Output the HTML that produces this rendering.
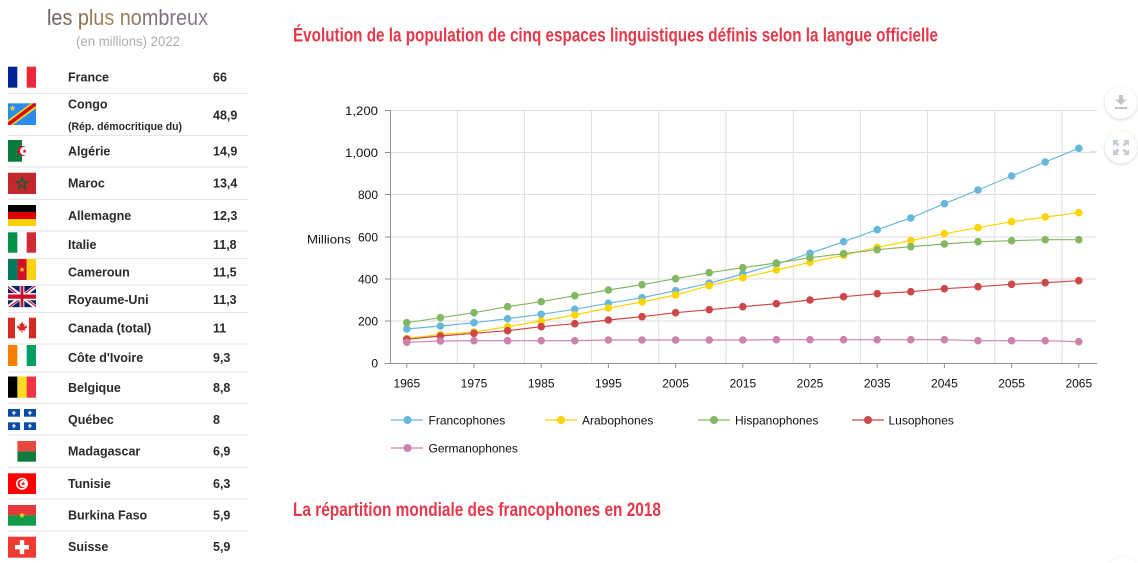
<!DOCTYPE html>
<html><head><meta charset="utf-8"><style>
html,body{margin:0;padding:0;background:#fff;}
svg{display:block;}
.nm{font-family:"Liberation Sans",sans-serif;font-weight:bold;font-size:12.5px;fill:#2a2a2a;}
.ax{font-family:"Liberation Sans",sans-serif;font-size:12px;fill:#111;}
.lg{font-family:"Liberation Sans",sans-serif;font-size:12px;fill:#111;}
</style></head><body>
<svg width="1138" height="563" viewBox="0 0 1138 563" xmlns="http://www.w3.org/2000/svg">
<defs>
<linearGradient id="tg" x1="47" y1="0" x2="208" y2="0" gradientUnits="userSpaceOnUse">
<stop offset="0" stop-color="#6a5a66"/><stop offset="0.4" stop-color="#a8884e"/><stop offset="0.7" stop-color="#7c6c7c"/><stop offset="1" stop-color="#8a8090"/>
</linearGradient>
<filter id="sh" x="-50%" y="-50%" width="200%" height="200%"><feDropShadow dx="0" dy="1" stdDeviation="1.5" flood-color="#000" flood-opacity="0.18"/></filter>
<marker id="mb" markerWidth="10" markerHeight="10" refX="5" refY="5" markerUnits="userSpaceOnUse"><circle cx="5" cy="5" r="3.8" fill="#67b7dc"/></marker>
<marker id="my" markerWidth="10" markerHeight="10" refX="5" refY="5" markerUnits="userSpaceOnUse"><circle cx="5" cy="5" r="3.8" fill="#fdd400"/></marker>
<marker id="mg" markerWidth="10" markerHeight="10" refX="5" refY="5" markerUnits="userSpaceOnUse"><circle cx="5" cy="5" r="3.8" fill="#84b761"/></marker>
<marker id="mr" markerWidth="10" markerHeight="10" refX="5" refY="5" markerUnits="userSpaceOnUse"><circle cx="5" cy="5" r="3.8" fill="#cc4748"/></marker>
<marker id="mp" markerWidth="10" markerHeight="10" refX="5" refY="5" markerUnits="userSpaceOnUse"><circle cx="5" cy="5" r="3.8" fill="#cd82ad"/></marker>
</defs>

<!-- Left panel header -->
<text x="47" y="25" font-family="Liberation Sans, sans-serif" font-size="22" fill="url(#tg)" textLength="161" lengthAdjust="spacingAndGlyphs">les plus nombreux</text>
<text x="76" y="46" font-family="Liberation Sans, sans-serif" font-size="14" fill="#adadad" textLength="104" lengthAdjust="spacingAndGlyphs">(en millions) 2022</text>

<!-- separators -->
<g stroke="#e6e6e6" stroke-width="1">
<line x1="8" y1="93.5" x2="248" y2="93.5"/>
<line x1="8" y1="135.5" x2="248" y2="135.5"/>
<line x1="8" y1="167" x2="248" y2="167"/>
<line x1="8" y1="199.5" x2="248" y2="199.5"/>
<line x1="8" y1="231" x2="248" y2="231"/>
<line x1="8" y1="258.5" x2="248" y2="258.5"/>
<line x1="8" y1="285" x2="248" y2="285"/>
<line x1="8" y1="312.5" x2="248" y2="312.5"/>
<line x1="8" y1="344" x2="248" y2="344"/>
<line x1="8" y1="372" x2="248" y2="372"/>
<line x1="8" y1="403.5" x2="248" y2="403.5"/>
<line x1="8" y1="435" x2="248" y2="435"/>
<line x1="8" y1="467.5" x2="248" y2="467.5"/>
<line x1="8" y1="499" x2="248" y2="499"/>
<line x1="8" y1="531" x2="248" y2="531"/>
</g>

<!-- Flags -->
<rect x="8" y="66.7" width="9.4" height="21" fill="#002395"/><rect x="17.4" y="66.7" width="9.3" height="21" fill="#fff"/><rect x="26.7" y="66.7" width="9.3" height="21" fill="#ed2939"/>
<rect x="8" y="103.3" width="28" height="21.7" fill="#2b8cf0"/>
<polygon points="8,120 31,103.3 36,103.3 36,108.3 13,125 8,125" fill="#f7d618"/>
<polygon points="8,122.3 33.5,103.3 36,103.3 36,105.8 10.5,125 8,125" fill="#ce1021"/>
<polygon points="12.5,105 13.3,107.3 15.6,107.3 13.8,108.7 14.5,111 12.5,109.6 10.5,111 11.2,108.7 9.4,107.3 11.7,107.3" fill="#f7d618"/>
<rect x="8" y="140" width="14" height="21.7" fill="#0a7a3c"/><rect x="22" y="140" width="14" height="21.7" fill="#fff"/>
<circle cx="22.5" cy="151" r="5" fill="#d21034"/><circle cx="24" cy="151" r="4" fill="#fff"/>
<polygon points="24.5,149 25.2,150.4 26.7,150.5 25.6,151.5 26,153 24.5,152.2 23.2,153 23.5,151.5 22.4,150.5 24,150.4" fill="#d21034"/>
<rect x="8" y="172.7" width="28" height="21.3" fill="#c1272d"/>
<polygon points="22,177.5 23.4,181.6 27.7,181.6 24.2,184.2 25.5,188.4 22,185.8 18.5,188.4 19.8,184.2 16.3,181.6 20.6,181.6" fill="none" stroke="#006233" stroke-width="1.2"/>
<rect x="8" y="205" width="28" height="7" fill="#000"/><rect x="8" y="212" width="28" height="7" fill="#dd0000"/><rect x="8" y="219" width="28" height="7" fill="#ffce00"/>
<rect x="8" y="232.3" width="9.4" height="20.4" fill="#009246"/><rect x="17.4" y="232.3" width="9.3" height="20.4" fill="#fff"/><rect x="26.7" y="232.3" width="9.3" height="20.4" fill="#ce2b37"/>
<rect x="8" y="259" width="9.4" height="21" fill="#007a5e"/><rect x="17.4" y="259" width="9.3" height="21" fill="#ce1126"/><rect x="26.7" y="259" width="9.3" height="21" fill="#fcd116"/>
<polygon points="22,266.5 22.7,268.6 24.9,268.6 23.1,269.9 23.8,272 22,270.7 20.2,272 20.9,269.9 19.1,268.6 21.3,268.6" fill="#fcd116"/>
<svg x="8" y="286" width="28" height="21.3" viewBox="0 0 60 30" preserveAspectRatio="none">
<clipPath id="ukt"><path d="M30,15 h30 v15 z v15 h-30 z h-30 v-15 z v-15 h30 z"/></clipPath>
<rect width="60" height="30" fill="#012169"/>
<path d="M0,0 L60,30 M60,0 L0,30" stroke="#fff" stroke-width="6"/>
<path d="M0,0 L60,30 M60,0 L0,30" clip-path="url(#ukt)" stroke="#C8102E" stroke-width="4"/>
<path d="M30,0 v30 M0,15 h60" stroke="#fff" stroke-width="10"/>
<path d="M30,0 v30 M0,15 h60" stroke="#C8102E" stroke-width="6"/>
</svg>
<rect x="8" y="317.7" width="7" height="20.6" fill="#d52b1e"/><rect x="15" y="317.7" width="14" height="20.6" fill="#fff"/><rect x="29" y="317.7" width="7" height="20.6" fill="#d52b1e"/>
<polygon transform="translate(22,327.5)" points="0,-6 1.3,-3.3 2.7,-3.9 2.2,-0.6 4.9,-2.7 4.3,-1.1 5.5,-0.5 2.7,2 3.3,3.3 0.45,2.8 0.45,5.5 -0.45,5.5 -0.45,2.8 -3.3,3.3 -2.7,2 -5.5,-0.5 -4.3,-1.1 -4.9,-2.7 -2.2,-0.6 -2.7,-3.9 -1.3,-3.3" fill="#d52b1e"/>
<rect x="8" y="345" width="9.4" height="21" fill="#f77f00"/><rect x="17.4" y="345" width="9.3" height="21" fill="#fff"/><rect x="26.7" y="345" width="9.3" height="21" fill="#009e60"/>
<rect x="8" y="376.5" width="9.4" height="21.2" fill="#000"/><rect x="17.4" y="376.5" width="9.3" height="21.2" fill="#fdda24"/><rect x="26.7" y="376.5" width="9.3" height="21.2" fill="#ef3340"/>
<rect x="8" y="409" width="28" height="21" fill="#0a4ba8"/>
<rect x="20" y="409" width="4" height="21" fill="#fff"/><rect x="8" y="416.7" width="28" height="5.6" fill="#fff"/>
<g fill="#fff"><rect x="13.3" y="410.8" width="1.2" height="4.3"/><rect x="12" y="412.3" width="3.8" height="1.1"/>
<rect x="29.3" y="410.8" width="1.2" height="4.3"/><rect x="28" y="412.3" width="3.8" height="1.1"/>
<rect x="13.3" y="423.8" width="1.2" height="4.3"/><rect x="12" y="425.3" width="3.8" height="1.1"/>
<rect x="29.3" y="423.8" width="1.2" height="4.3"/><rect x="28" y="425.3" width="3.8" height="1.1"/></g>
<rect x="8" y="441" width="9.4" height="20.7" fill="#fff"/><rect x="17.4" y="441" width="18.6" height="10.4" fill="#e8483e"/><rect x="17.4" y="451.4" width="18.6" height="10.3" fill="#137a3e"/>
<rect x="8" y="473.3" width="28" height="20.7" fill="#ff0000"/>
<circle cx="22" cy="483.7" r="6" fill="#fff"/><circle cx="22" cy="483.7" r="4.5" fill="#ff0000"/><circle cx="23.2" cy="483.7" r="3.6" fill="#fff"/>
<polygon points="23.3,481.6 23.9,483 25.4,483.1 24.2,484 24.6,485.5 23.3,484.7 22,485.5 22.4,484 21.2,483.1 22.7,483" fill="#ff0000"/>
<rect x="8" y="505" width="28" height="10.4" fill="#e5383a"/><rect x="8" y="515.4" width="28" height="10.3" fill="#149b4a"/>
<polygon points="22,512 22.8,514.3 25.2,514.3 23.2,515.7 24,518 22,516.6 20,518 20.8,515.7 18.8,514.3 21.2,514.3" fill="#fcd116"/>
<rect x="8" y="536.7" width="28" height="21" fill="#ef3b2f"/>
<rect x="15" y="545" width="14" height="4.4" fill="#fff"/><rect x="19.8" y="540.2" width="4.4" height="14" fill="#fff"/>

<!-- Names & values -->
<g class="nm">
<text x="68" y="81.5">France</text><text x="213" y="81.5">66</text>
<text x="68" y="108.5">Congo</text><text x="213" y="119.5">48,9</text>
<text x="68" y="130" font-size="11" textLength="114" lengthAdjust="spacingAndGlyphs">(Rép. démocritique du)</text>
<text x="68" y="155.5">Algérie</text><text x="213" y="155.5">14,9</text>
<text x="68" y="187.5">Maroc</text><text x="213" y="187.5">13,4</text>
<text x="68" y="219.8">Allemagne</text><text x="213" y="219.8">12,3</text>
<text x="68" y="248.8">Italie</text><text x="213" y="248.8">11,8</text>
<text x="68" y="276.5">Cameroun</text><text x="213" y="276.5">11,5</text>
<text x="68" y="303.8">Royaume-Uni</text><text x="213" y="303.8">11,3</text>
<text x="68" y="332.5">Canada (total)</text><text x="213" y="332.5">11</text>
<text x="68" y="362.2">Côte d'Ivoire</text><text x="213" y="362.2">9,3</text>
<text x="68" y="391.8">Belgique</text><text x="213" y="391.8">8,8</text>
<text x="68" y="423.8">Québec</text><text x="213" y="423.8">8</text>
<text x="68" y="455.5">Madagascar</text><text x="213" y="455.5">6,9</text>
<text x="68" y="487.8">Tunisie</text><text x="213" y="487.8">6,3</text>
<text x="68" y="519.5">Burkina Faso</text><text x="213" y="519.5">5,9</text>
<text x="68" y="551.2">Suisse</text><text x="213" y="551.2">5,9</text>
</g>

<!-- Titles -->
<text x="293" y="41.5" font-family="Liberation Sans Narrow, Liberation Sans, sans-serif" font-weight="bold" font-size="19" fill="#e5394b" textLength="645" lengthAdjust="spacingAndGlyphs">Évolution de la population de cinq espaces linguistiques définis selon la langue officielle</text>
<text x="293" y="516" font-family="Liberation Sans Narrow, Liberation Sans, sans-serif" font-weight="bold" font-size="19" fill="#e5394b" textLength="368" lengthAdjust="spacingAndGlyphs">La répartition mondiale des francophones en 2018</text>

<!-- Grid -->
<g stroke="#dedede" stroke-width="1">
<line x1="390" y1="110.5" x2="1096" y2="110.5"/>
<line x1="390" y1="152.5" x2="1096" y2="152.5"/>
<line x1="390" y1="194.5" x2="1096" y2="194.5"/>
<line x1="390" y1="237" x2="1096" y2="237"/>
<line x1="390" y1="279" x2="1096" y2="279"/>
<line x1="390" y1="321" x2="1096" y2="321"/>
<line x1="457.2" y1="110" x2="457.2" y2="363"/>
<line x1="524.4" y1="110" x2="524.4" y2="363"/>
<line x1="591.6" y1="110" x2="591.6" y2="363"/>
<line x1="658.8" y1="110" x2="658.8" y2="363"/>
<line x1="726" y1="110" x2="726" y2="363"/>
<line x1="793.2" y1="110" x2="793.2" y2="363"/>
<line x1="860.4" y1="110" x2="860.4" y2="363"/>
<line x1="927.6" y1="110" x2="927.6" y2="363"/>
<line x1="994.8" y1="110" x2="994.8" y2="363"/>
<line x1="1062" y1="110" x2="1062" y2="363"/>
</g>
<!-- Axes -->
<g stroke="#8f8f8f" stroke-width="1">
<line x1="390.5" y1="110" x2="390.5" y2="363.5"/>
<line x1="390" y1="363.5" x2="1097" y2="363.5"/>
<line x1="385" y1="110.5" x2="390" y2="110.5"/>
<line x1="385" y1="152.5" x2="390" y2="152.5"/>
<line x1="385" y1="194.5" x2="390" y2="194.5"/>
<line x1="385" y1="237" x2="390" y2="237"/>
<line x1="385" y1="279" x2="390" y2="279"/>
<line x1="385" y1="321" x2="390" y2="321"/>
<line x1="385" y1="363.5" x2="390" y2="363.5"/>
<line x1="406.8" y1="363" x2="406.8" y2="368"/>
<line x1="474" y1="363" x2="474" y2="368"/>
<line x1="541.2" y1="363" x2="541.2" y2="368"/>
<line x1="608.4" y1="363" x2="608.4" y2="368"/>
<line x1="675.6" y1="363" x2="675.6" y2="368"/>
<line x1="742.8" y1="363" x2="742.8" y2="368"/>
<line x1="810" y1="363" x2="810" y2="368"/>
<line x1="877.2" y1="363" x2="877.2" y2="368"/>
<line x1="944.4" y1="363" x2="944.4" y2="368"/>
<line x1="1011.6" y1="363" x2="1011.6" y2="368"/>
<line x1="1078.8" y1="363" x2="1078.8" y2="368"/>
</g>
<!-- Y labels -->
<g class="ax" text-anchor="end">
<text x="378" y="115" textLength="33" lengthAdjust="spacingAndGlyphs">1,200</text>
<text x="378" y="157" textLength="33" lengthAdjust="spacingAndGlyphs">1,000</text>
<text x="378" y="199">800</text>
<text x="378" y="241.3">600</text>
<text x="378" y="283.3">400</text>
<text x="378" y="325.3">200</text>
<text x="378" y="367.5">0</text>
<text x="351" y="243.3" textLength="44" lengthAdjust="spacingAndGlyphs">Millions</text>
</g>
<!-- X labels -->
<g class="ax" text-anchor="middle">
<text x="406.8" y="387.5">1965</text>
<text x="474" y="387.5">1975</text>
<text x="541.2" y="387.5">1985</text>
<text x="608.4" y="387.5">1995</text>
<text x="675.6" y="387.5">2005</text>
<text x="742.8" y="387.5">2015</text>
<text x="810" y="387.5">2025</text>
<text x="877.2" y="387.5">2035</text>
<text x="944.4" y="387.5">2045</text>
<text x="1011.6" y="387.5">2055</text>
<text x="1078.8" y="387.5">2065</text>
</g>

<!-- Series -->
<g fill="none" stroke-width="1.2">
<polyline stroke="#67b7dc" marker-start="url(#mb)" marker-mid="url(#mb)" marker-end="url(#mb)" points="406.8,329 440.4,326 474,322.7 507.6,318.7 541.2,314.3 574.8,309.3 608.4,303.3 642,297.7 675.6,290.7 709.2,283.3 742.8,274 776.4,264.3 810,253.3 843.6,241.7 877.2,229.7 910.8,218 944.4,203.7 978,190 1011.6,176 1045.2,162 1078.8,148.3"/>
<polyline stroke="#fdd400" marker-start="url(#my)" marker-mid="url(#my)" marker-end="url(#my)" points="406.8,338.5 440.4,334.5 474,332 507.6,326.7 541.2,321 574.8,315 608.4,308 642,302 675.6,295 709.2,285.7 742.8,277.7 776.4,270 810,262.3 843.6,255.3 877.2,247.3 910.8,240.7 944.4,233.7 978,227.7 1011.6,221.7 1045.2,217 1078.8,212.7"/>
<polyline stroke="#84b761" marker-start="url(#mg)" marker-mid="url(#mg)" marker-end="url(#mg)" points="406.8,322.7 440.4,317.7 474,312.7 507.6,306.7 541.2,301.7 574.8,295.7 608.4,290 642,284.7 675.6,278.7 709.2,272.7 742.8,267.7 776.4,263 810,257.7 843.6,253.7 877.2,249.7 910.8,246.7 944.4,244 978,241.7 1011.6,240.7 1045.2,239.7 1078.8,239.7"/>
<polyline stroke="#cc4748" marker-start="url(#mr)" marker-mid="url(#mr)" marker-end="url(#mr)" points="406.8,339.3 440.4,336 474,333.3 507.6,330.7 541.2,326.7 574.8,323.7 608.4,320 642,316.7 675.6,312.7 709.2,309.7 742.8,306.7 776.4,303.7 810,300 843.6,296.7 877.2,293.7 910.8,291.7 944.4,288.7 978,286.7 1011.6,284.3 1045.2,282.7 1078.8,280.7"/>
<polyline stroke="#cd82ad" marker-start="url(#mp)" marker-mid="url(#mp)" marker-end="url(#mp)" points="406.8,342.3 440.4,341 474,340.7 507.6,340.7 541.2,340.7 574.8,340.7 608.4,340 642,340 675.6,340 709.2,340 742.8,340 776.4,339.7 810,339.7 843.6,339.7 877.2,339.7 910.8,339.7 944.4,339.7 978,340.7 1011.6,340.7 1045.2,340.7 1078.8,341.7"/>
</g>

<!-- Legend -->
<g stroke-width="1.2">
<line x1="391" y1="420" x2="423" y2="420" stroke="#67b7dc"/><circle cx="407.5" cy="420" r="4" fill="#67b7dc"/>
<line x1="545" y1="420" x2="577" y2="420" stroke="#fdd400"/><circle cx="561" cy="420" r="4" fill="#fdd400"/>
<line x1="698" y1="420" x2="730" y2="420" stroke="#84b761"/><circle cx="714" cy="420" r="4" fill="#84b761"/>
<line x1="852" y1="420" x2="884" y2="420" stroke="#cc4748"/><circle cx="868" cy="420" r="4" fill="#cc4748"/>
<line x1="391" y1="448" x2="423" y2="448" stroke="#cd82ad"/><circle cx="407.5" cy="448" r="4" fill="#cd82ad"/>
</g>
<g class="lg">
<text x="428.5" y="424.3">Francophones</text>
<text x="582" y="424.3">Arabophones</text>
<text x="735" y="424.3">Hispanophones</text>
<text x="888.5" y="424.3">Lusophones</text>
<text x="428.5" y="452.3">Germanophones</text>
</g>

<!-- Side buttons -->
<line x1="1090" y1="110.5" x2="1097" y2="110.5" stroke="#e2e2e2"/>
<line x1="1090" y1="151.5" x2="1097" y2="151.5" stroke="#e2e2e2"/>
<circle cx="1121" cy="102.7" r="16" fill="#fff" filter="url(#sh)"/>
<circle cx="1121" cy="147.3" r="16" fill="#fff" filter="url(#sh)"/>
<g fill="#c4c4c4">
<rect x="1119" y="95" width="4" height="5"/>
<polygon points="1115.5,99.5 1126.5,99.5 1121,105"/>
<rect x="1115" y="107" width="12" height="2"/>
</g>
<g fill="#c6ccd4">
<polygon points="1113,140 1119,140 1117,142 1119.5,144.5 1117.5,146.5 1115,144 1113,146"/>
<polygon points="1129,140 1123,140 1125,142 1122.5,144.5 1124.5,146.5 1127,144 1129,146"/>
<polygon points="1113,155 1119,155 1117,153 1119.5,150.5 1117.5,148.5 1115,151 1113,149"/>
<polygon points="1129,155 1123,155 1125,153 1122.5,150.5 1124.5,148.5 1127,151 1129,149"/>
</g>
<circle cx="1123" cy="573" r="16" fill="#fff" filter="url(#sh)"/>
</svg>
</body></html>
